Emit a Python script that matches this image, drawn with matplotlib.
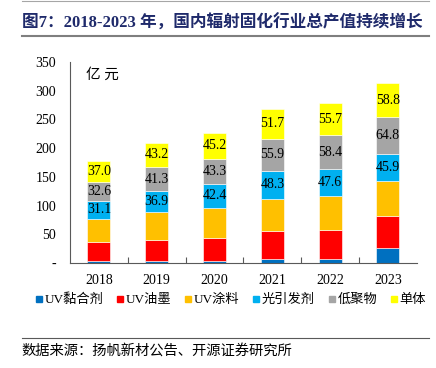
import numpy as np
import matplotlib
matplotlib.use('Agg')
import matplotlib.pyplot as plt
from matplotlib.lines import Line2D

plt.rcParams['font.family'] = ['Liberation Serif', 'Noto Sans CJK SC']

years = ['2018', '2019', '2020', '2021', '2022', '2023']
series_names = ['UV黏合剂', 'UV油墨', 'UV涂料', '光引发剂', '低聚物', '单体']
colors = ['#0070C0', '#FF0000', '#FFC000', '#00B0F0', '#A5A5A5', '#FFFF00']

adhesive = [3.5, 3.5, 4.0, 7.0, 7.5, 26.7]
ink = [32.5, 36.0, 39.6, 48.2, 50.6, 54.6]
coating = [41.2, 48.8, 52.2, 56.9, 58.0, 62.1]
photoinit = [31.1, 36.9, 42.4, 48.3, 47.6, 45.9]
oligomer = [32.6, 41.3, 43.3, 55.9, 58.4, 64.8]
monomer = [37.0, 43.2, 45.2, 51.7, 55.7, 58.8]

series = [adhesive, ink, coating, photoinit, oligomer, monomer]
labeled = [3, 4, 5]  # only the top three segments carry value labels

fig = plt.figure(figsize=(4.36, 3.68), dpi=100)
ax = fig.add_axes([0.1606, 0.2853, 0.7954, 0.5462])

x = np.arange(len(years))
bottom = np.zeros(len(years))
for i, vals in enumerate(series):
    vals = np.array(vals)
    ax.bar(x, vals, 0.4, bottom=bottom, color=colors[i], edgecolor='white', linewidth=0.4)
    if i in labeled:
        for xi, b, v in zip(x, bottom, vals):
            ax.text(xi, b + v / 2, f'{v:.1f}', ha='center', va='center', fontsize=10, color='black')
    bottom += vals

ax.set_xlim(-0.5, len(years) - 0.5)
ax.set_ylim(0, 350)
ax.set_yticks(np.arange(0, 351, 50))
ax.set_yticklabels(['-'] + [str(v) for v in range(50, 351, 50)], fontsize=10)
ax.tick_params(axis='y', length=0, pad=10)
ax.set_xticks(x)
ax.set_xticklabels(years, fontsize=10)
ax.tick_params(axis='x', length=0, pad=8)
ax.set_xticks(np.arange(0.5, len(years) - 0.5, 1), minor=True)
ax.tick_params(axis='x', which='minor', direction='in', length=4, color='#595959', width=0.8)
for s in ['top', 'right']:
    ax.spines[s].set_visible(False)
for s in ['left', 'bottom']:
    ax.spines[s].set_color('#595959')
    ax.spines[s].set_linewidth(0.8)

ax.text(0.045, 0.97, '亿 元', transform=ax.transAxes, fontsize=10.5, va='top', ha='left')

handles = [Line2D([], [], marker='s', linestyle='none', markersize=5, color=c) for c in colors]
fig.legend(handles, series_names, loc='center', bbox_to_anchor=(0.527, 0.185), ncol=6, frameon=False,
           fontsize=9.5, handletextpad=0.05, columnspacing=0.85, handlelength=0.8)

# title and source lines
fig.add_artist(Line2D([0.05, 0.985], [0.998, 0.998], color='#A6A6A6', linewidth=0.8))
fig.text(0.05, 0.937, '图7：2018-2023 年，国内辐射固化行业总产值持续增长', fontsize=12,
         fontweight='bold', color='#1F2A6B', va='center', ha='left')
fig.add_artist(Line2D([0.05, 0.985], [0.902, 0.902], color='#7F7F7F', linewidth=1.5))
fig.add_artist(Line2D([0.05, 0.985], [0.082, 0.082], color='#595959', linewidth=0.8))
fig.text(0.05, 0.048, '数据来源：扬帆新材公告、开源证券研究所', fontsize=10.3, va='center', ha='left')

fig.savefig('out.png', dpi=100)
